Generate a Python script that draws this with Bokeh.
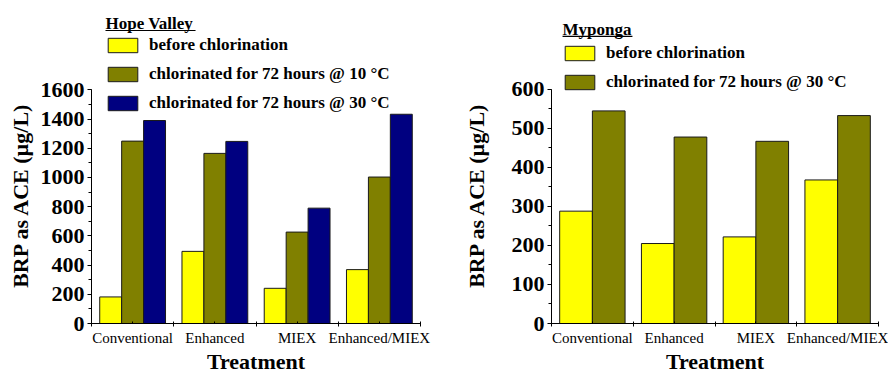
from bokeh.plotting import figure
from bokeh.models import Range1d, FixedTicker, Legend, LegendItem, Label, BoxAnnotation
from bokeh.layouts import row
from bokeh.embed import file_html
from bokeh.resources import INLINE

# ---- data ----
treatments = ["Conventional", "Enhanced", "MIEX", "Enhanced/MIEX"]
hv_before = [182, 494, 241, 369]
hv_10c = [1249, 1165, 626, 1003]
hv_30c = [1390, 1247, 790, 1433]
my_before = [288, 205, 222, 368]
my_30c = [545, 478, 467, 533]

series_hv = [("before chlorination", hv_before, "#FFFF00"),
             ("chlorinated for 72 hours @ 10 \u00b0C", hv_10c, "#808000"),
             ("chlorinated for 72 hours @ 30 \u00b0C", hv_30c, "#000080")]
series_my = [("before chlorination", my_before, "#FFFF00"),
             ("chlorinated for 72 hours @ 30 \u00b0C", my_30c, "#808000")]

y_label = "BRP as ACE (\u00b5g/L)"
SERIF = "Liberation Serif"


def make_panel(series, ymax, ystep, yend, title, width, border_left, border_right,
               legend_loc, title_xy, underline, ylabel_standoff):
    n = len(treatments)
    p = figure(width=width, height=376, x_range=Range1d(0, n), y_range=Range1d(0, yend),
               output_backend="svg", toolbar_location=None,
               min_border_left=border_left, min_border_right=border_right,
               min_border_top=0, min_border_bottom=52)
    p.outline_line_color = None
    p.xgrid.visible = False
    p.ygrid.visible = False
    p.background_fill_color = "white"
    p.border_fill_color = "white"

    k = len(series)
    group = 0.8
    bw = group / k
    items = []
    for j, (label, vals, color) in enumerate(series):
        xs = [i + 0.5 - group / 2 + bw * (j + 0.5) for i in range(n)]
        r = p.vbar(x=xs, top=vals, width=bw, bottom=0, fill_color=color,
                   line_color="#1a1a1a", line_width=1)
        items.append(LegendItem(label=label, renderers=[r]))

    legend = Legend(items=items, location=legend_loc, padding=0, margin=0, spacing=9,
                    glyph_width=37, glyph_height=18, label_standoff=8, label_height=18,
                    border_line_color=None, background_fill_alpha=0,
                    label_text_font=SERIF, label_text_font_style="bold",
                    label_text_font_size="17px", label_text_color="black")
    p.add_layout(legend)

    tx, ty = title_xy
    p.add_layout(Label(x=tx, y=ty, text=title, text_font=SERIF, text_font_style="bold",
                       text_font_size="17px", text_color="black", text_baseline="alphabetic"))
    ul, ur, ub, ut = underline
    p.add_layout(BoxAnnotation(left=ul, right=ur, bottom=ub, top=ut, fill_color="black",
                               fill_alpha=1, line_color=None))

    # y axis (label padded at its end so that it sits lower, as in the original)
    ya = p.yaxis[0]
    ya.bounds = (0, ymax)
    ya.ticker = FixedTicker(ticks=list(range(0, ymax + 1, ystep)),
                            minor_ticks=list(range(0, ymax + 1, ystep // 2)))
    ya.axis_label = y_label + "\u00a0" * 12
    ya.axis_label_text_font = SERIF
    ya.axis_label_text_font_style = "bold"
    ya.axis_label_text_font_size = "22px"
    ya.axis_label_text_color = "black"
    ya.axis_label_standoff = ylabel_standoff
    ya.major_label_text_font = SERIF
    ya.major_label_text_font_style = "bold"
    ya.major_label_text_font_size = "22px"
    ya.major_label_text_color = "black"
    ya.major_label_standoff = 3
    ya.major_tick_in = 0
    ya.major_tick_out = 4
    ya.minor_tick_in = 0
    ya.minor_tick_out = 3
    ya.axis_line_color = "black"
    ya.major_tick_line_color = "black"
    ya.minor_tick_line_color = "black"

    # x axis
    xa = p.xaxis[0]
    centers = [i + 0.5 for i in range(n)]
    xa.ticker = FixedTicker(ticks=centers, minor_ticks=list(range(0, n + 1)))
    xa.major_label_overrides = {c: t for c, t in zip(centers, treatments)}
    xa.major_label_text_font = SERIF
    xa.major_label_text_font_size = "15px"
    xa.major_label_text_color = "black"
    xa.major_label_standoff = 3
    xa.major_tick_in = 2
    xa.major_tick_out = 0
    xa.minor_tick_in = 2
    xa.minor_tick_out = 3
    xa.axis_label = "Treatment"
    xa.axis_label_text_font = SERIF
    xa.axis_label_text_font_style = "bold"
    xa.axis_label_text_font_size = "22px"
    xa.axis_label_text_color = "black"
    xa.axis_label_standoff = 0
    xa.axis_line_color = "black"
    xa.major_tick_line_color = "black"
    xa.minor_tick_line_color = "black"
    return p


p1 = make_panel(series_hv, 1600, 200, 2212, "Hope Valley", 444, 91, 24,
                (13, 210), (0.17, 2052), (0.17, 1.265, 2002.5, 2010.6), 5)
p2 = make_panel(series_my, 600, 100, 828, "Myponga", 444, 107, 10,
                (10, 231), (0.135, 752.6), (0.135, 0.99, 734.7, 737.8), 20)

layout = row(p1, p2)
open("out.html", "w").write(file_html(layout, INLINE))
